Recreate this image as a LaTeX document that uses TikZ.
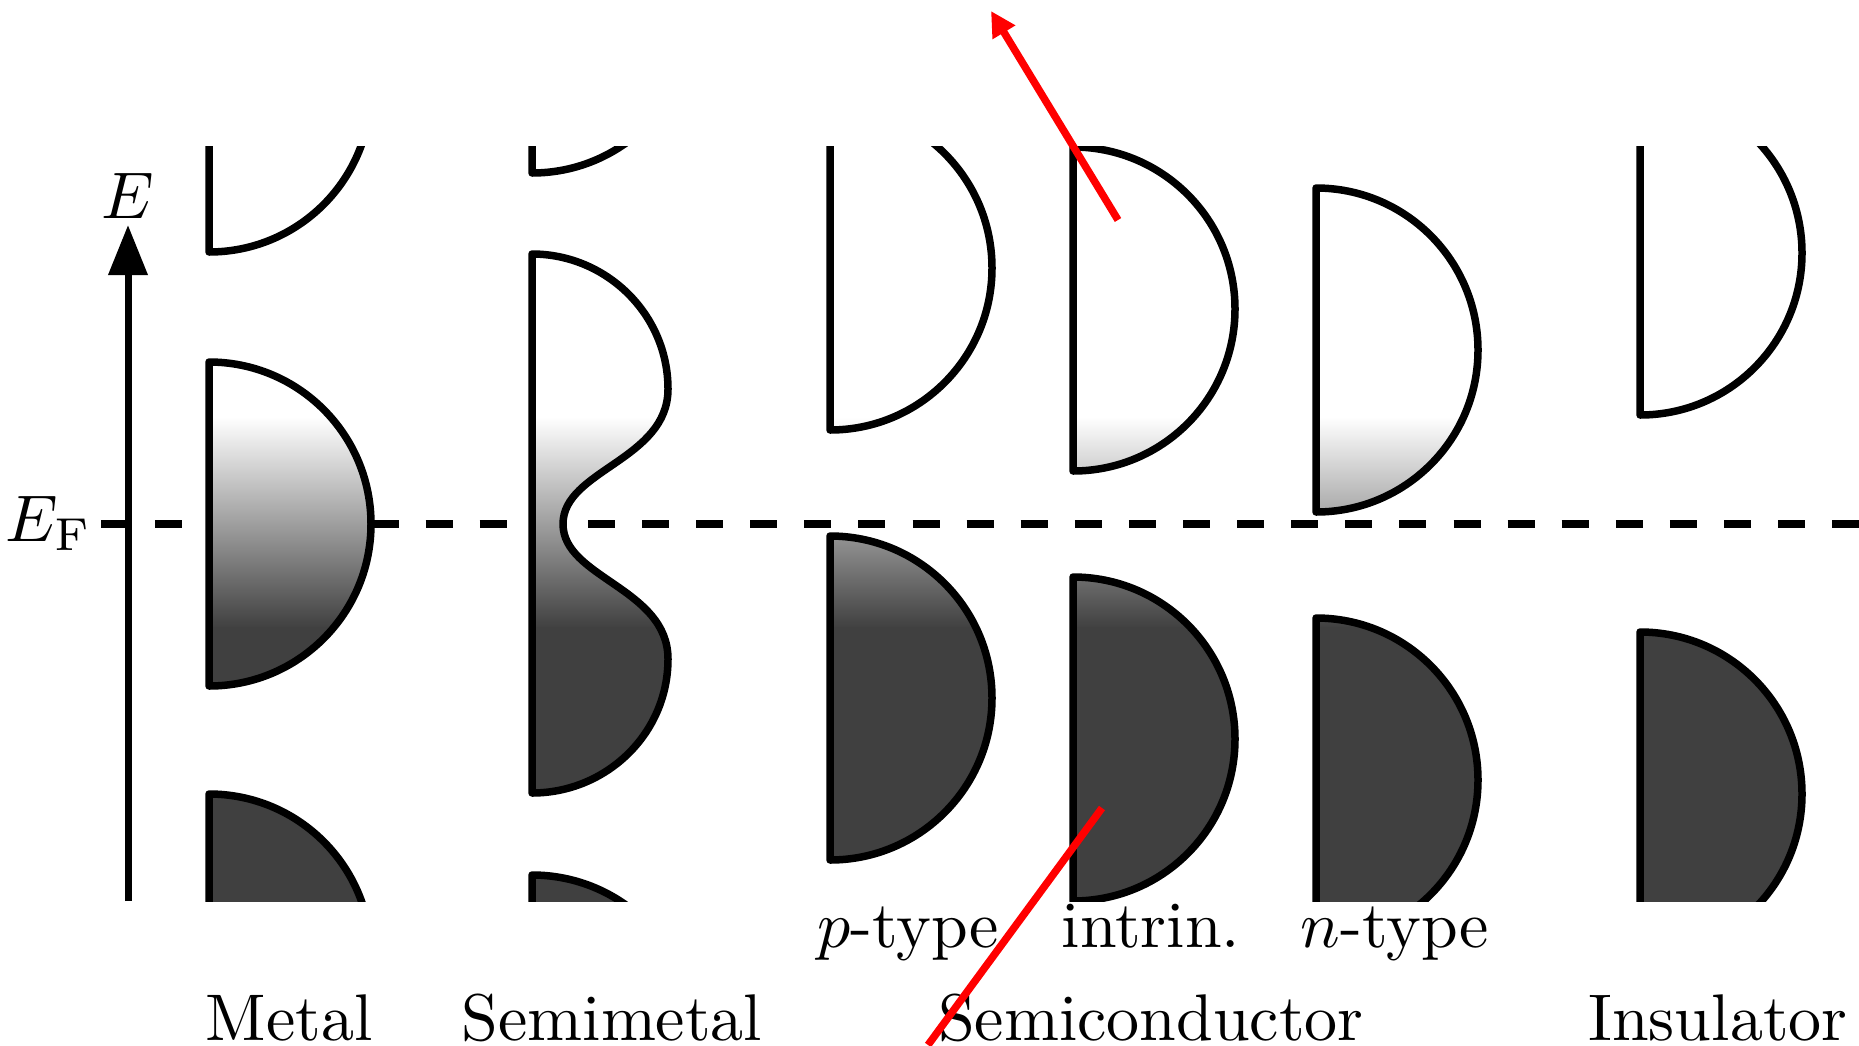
\documentclass[tikz,border=0pt]{standalone}
\usetikzlibrary{arrows.meta}
\definecolor{bandgray}{RGB}{64,64,64}
\newcommand{\bandshape}[2]{(#1,{#2-162}) .. controls ({#1+89.5},{#2-162}) and ({#1+162},{#2-89.5}) .. ({#1+162},#2) .. controls ({#1+162},{#2+89.5}) and ({#1+89.5},{#2+162}) .. (#1,{#2+162}) -- cycle}
\newcommand{\semimetalshape}{(532,254) .. controls (606,254) and (668,314) .. (668,389) .. controls (668,460) and (563,470) .. (563,524) .. controls (563,578) and (668,588) .. (668,659) .. controls (668,734) and (606,793) .. (532,793) -- cycle}
\tikzset{
  bandline/.style={line width=7.5pt, line join=round, draw=black},
  axisline/.style={line width=7pt, -{Triangle[length=50pt,width=38pt]}},
  fermiline/.style={line width=7.5pt, dash pattern=on 27pt off 27.1pt},
  redarrow/.style={red, line width=7.5pt, -{Triangle[length=25pt,width=25pt]}},
  redline/.style={red, line width=7.5pt},
  lbl/.style={inner sep=0pt, scale=6.6, anchor=base}
}
\begin{document}
\begin{tikzpicture}[x=1pt,y=-1pt]
\useasboundingbox (0,0) rectangle (1859,1045);
% Fermi level
\coordinate (efl) at (101,524);
\coordinate (efr) at (1859,524);
\draw[fermiline] (efl) -- (efr);
% energy axis
\coordinate (axb) at (128,901);
\coordinate (axt) at (128,225);
\draw[axisline] (axb) -- (axt);
% bands
\begin{scope}
  \clip (0,146) rectangle (1859,901);
  \begin{scope}
    \clip \bandshape{209}{90} \bandshape{209}{524} \bandshape{209}{956}
          \bandshape{532}{11} \semimetalshape \bandshape{532}{1037}
          \bandshape{830}{268} \bandshape{830}{698}
          \bandshape{1073}{309} \bandshape{1073}{739}
          \bandshape{1316}{350} \bandshape{1316}{780}
          \bandshape{1640}{253} \bandshape{1640}{794};
    \fill[white] (0,0) rectangle (1859,418);
    \shade[top color=white, bottom color=bandgray] (0,417) rectangle (1859,628);
    \fill[bandgray] (0,627) rectangle (1859,1045);
  \end{scope}
  \draw[bandline] \bandshape{209}{90};
  \draw[bandline] \bandshape{209}{524};
  \draw[bandline] \bandshape{209}{956};
  \draw[bandline] \bandshape{532}{11};
  \draw[bandline] \semimetalshape;
  \draw[bandline] \bandshape{532}{1037};
  \draw[bandline] \bandshape{830}{268};
  \draw[bandline] \bandshape{830}{698};
  \draw[bandline] \bandshape{1073}{309};
  \draw[bandline] \bandshape{1073}{739};
  \draw[bandline] \bandshape{1316}{350};
  \draw[bandline] \bandshape{1316}{780};
  \draw[bandline] \bandshape{1640}{253};
  \draw[bandline] \bandshape{1640}{794};
\end{scope}
% labels
\node[lbl] (lE) at (128,218) {$E$};
\node[lbl, anchor=base east] (lEF) at (93,541) {$E_\mathrm{F}$};
\node[lbl] (lptype) at (908,947) {$p$-type};
\node[lbl] (lintrin) at (1151,947) {intrin.};
\node[lbl] (lntype) at (1395,947) {$n$-type};
\node[lbl] (lmetal) at (289,1040) {Metal};
\node[lbl] (lsemimetal) at (612,1040) {Semimetal};
\node[lbl] (lsemicond) at (1151,1040) {Semiconductor};
\node[lbl] (linsul) at (1718,1040) {Insulator};
% red marks
\coordinate (r1s) at (1118,220);
\coordinate (r1e) at (991,11);
\draw[redarrow] (r1s) -- (r1e);
\coordinate (r2s) at (1102,808);
\coordinate (r2e) at (928,1045);
\draw[redline] (r2s) -- (r2e);
\end{tikzpicture}
\end{document}
